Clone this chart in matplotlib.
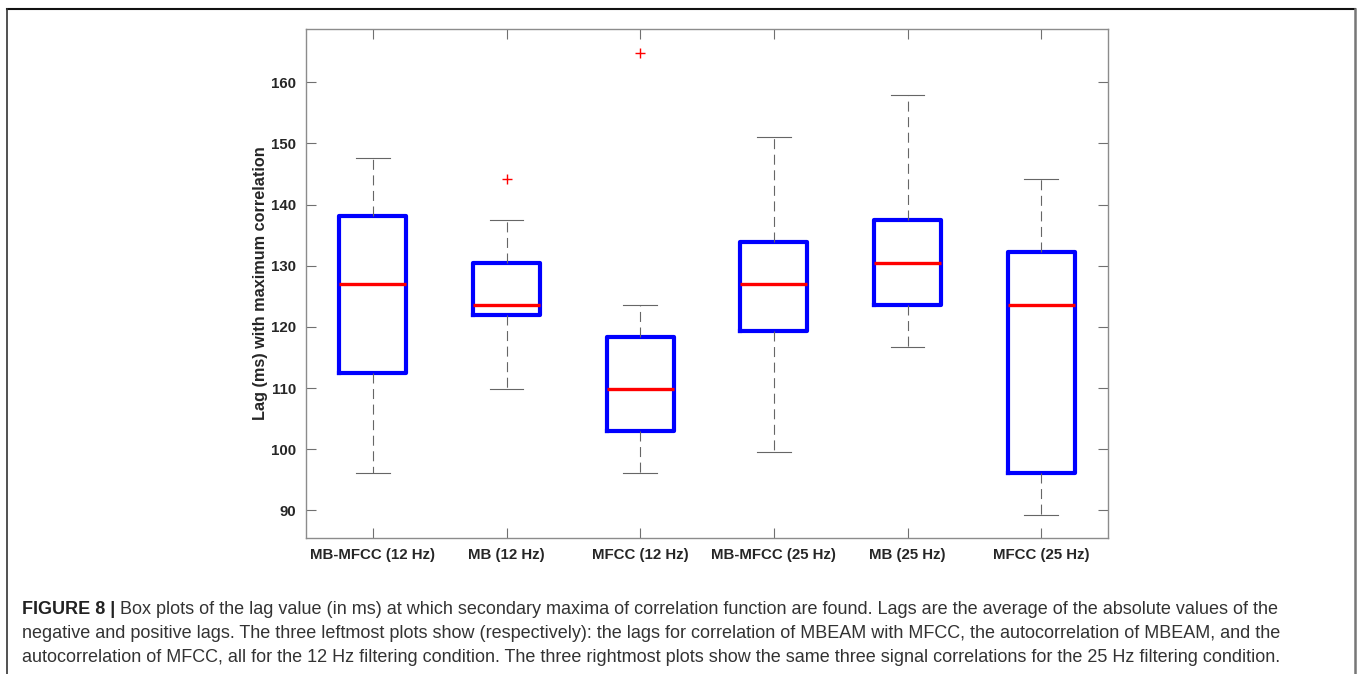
import matplotlib.pyplot as plt
from matplotlib.lines import Line2D

labels = ["MB-MFCC (12 Hz)", "MB (12 Hz)", "MFCC (12 Hz)",
          "MB-MFCC (25 Hz)", "MB (25 Hz)", "MFCC (25 Hz)"]
medians = [127.0, 123.6, 109.9, 127.1, 130.4, 123.6]
q1 = [112.5, 121.9, 103.0, 119.3, 123.6, 96.2]
q3 = [138.2, 130.4, 118.4, 133.9, 137.4, 132.2]
whis_lo = [96.2, 109.9, 96.2, 99.5, 116.7, 89.3]
whis_hi = [147.6, 137.4, 123.6, 151.1, 157.9, 144.2]
outliers = [[], [144.2], [164.8], [], [], []]
yticks = [90, 100, 110, 120, 130, 140, 150, 160]

caption_lines = [
    "Box plots of the lag value (in ms) at which secondary maxima of correlation function are found. "
    "Lags are the average of the absolute values of the",
    "negative and positive lags. The three leftmost plots show (respectively): the lags for correlation "
    "of MBEAM with MFCC, the autocorrelation of MBEAM, and the",
    "autocorrelation of MFCC, all for the 12 Hz filtering condition. The three rightmost plots show "
    "the same three signal correlations for the 25 Hz filtering condition.",
]

W, H = 1360, 674
fig = plt.figure(figsize=(W / 100, H / 100), dpi=100)
plt.rcParams["font.family"] = ["Liberation Sans", "DejaVu Sans"]

# axes box in pixels: left 306, right 1108, top 29, bottom 538
ax = fig.add_axes([306 / W, 1 - 538 / H, (1108 - 306) / W, (538 - 29) / H])

stats = []
for i in range(len(labels)):
    stats.append({
        "med": medians[i], "q1": q1[i], "q3": q3[i],
        "whislo": whis_lo[i], "whishi": whis_hi[i],
        "fliers": outliers[i], "label": labels[i],
    })

ax.bxp(
    stats,
    positions=range(1, len(labels) + 1),
    widths=0.5,
    boxprops=dict(color="#0000ff", linewidth=3.0),
    medianprops=dict(color="#ff0000", linewidth=2.4),
    whiskerprops=dict(color="#666666", linewidth=0.8, linestyle=(0, (9, 5))),
    capprops=dict(color="#666666", linewidth=0.8),
    capwidths=0.25,
    flierprops=dict(marker="+", markeredgecolor="#ff0000", markersize=7,
                    markeredgewidth=1.0, linestyle="none"),
)

ax.set_xlim(0.5, 6.5)
ax.set_ylim(85.5, 168.7)
ax.set_yticks(yticks)
ax.set_xticks(range(1, len(labels) + 1))
ax.set_xticklabels(labels)

for sp in ax.spines.values():
    sp.set_color("#8c8c8c")
    sp.set_linewidth(1.0)

ax.tick_params(direction="in", length=7, width=0.8, color="#707070",
               top=True, right=True, labelsize=10.8, pad=7)
for t in ax.get_xticklabels() + ax.get_yticklabels():
    t.set_fontweight("bold")
    t.set_color("#262626")

ax.set_ylabel("Lag (ms) with maximum correlation", fontsize=11.7,
              fontweight="bold", color="#262626", labelpad=2)

# outer frame of the figure panel
fig.add_artist(Line2D([7 / W, 1355 / W], [1 - 9 / H, 1 - 9 / H],
                      color="#111111", linewidth=1.5))
fig.add_artist(Line2D([7 / W, 7 / W], [1 - 9 / H, 0], color="#333333", linewidth=1.2))
fig.add_artist(Line2D([1355 / W, 1355 / W], [1 - 9 / H, 0], color="#777777", linewidth=1.8))

# caption
cap_size = 13.0
line_y = [610, 634, 657]
head = fig.text(22 / W, 1 - line_y[0] / H, "FIGURE 8 | ", fontsize=cap_size,
                fontweight="bold", color="#222222", va="center", ha="left")
plt.annotate(caption_lines[0], xy=(1, 0.5), xycoords=head,
             va="center", ha="left", fontsize=cap_size, color="#333333",
             annotation_clip=False)
for k in (1, 2):
    fig.text(22 / W, 1 - line_y[k] / H, caption_lines[k], fontsize=cap_size,
             color="#333333", va="center", ha="left")

fig.savefig("out.png", dpi=100)
